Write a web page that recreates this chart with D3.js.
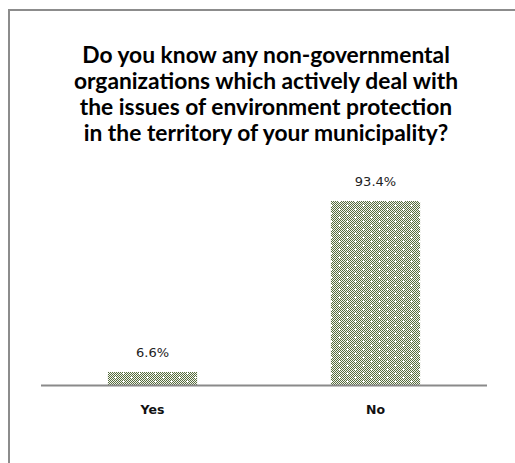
<!DOCTYPE html>
<html>
<head>
<meta charset="utf-8">
<script src="https://cdn.jsdelivr.net/npm/d3@7"></script>
<style>
  html, body { margin: 0; padding: 0; background: #fff; }
  svg { display: block; }
</style>
</head>
<body>
<svg id="chart" width="515" height="463"></svg>
<script>
// Survey answers and their shares
const categories = ["Yes", "No"];
const shares = [6.6, 93.4];
const titleLines = [
  "Do you know any non-governmental",
  "organizations which actively deal with",
  "the issues of environment protection",
  "in the territory of your municipality?"
];

const svg = d3.select("#chart");
const W = 515, H = 463;

// Dotted olive fill for the bars
const defs = svg.append("defs");
const pat = defs.append("pattern")
  .attr("id", "dots")
  .attr("patternUnits", "userSpaceOnUse")
  .attr("width", 16).attr("height", 8);
pat.append("rect").attr("width", 16).attr("height", 8).attr("fill", "#f4f6ef");
for (let y = 0; y < 8; y++) {
  for (let x = 0; x < 16; x++) {
    if ((x + y) % 2 === 0) {
      pat.append("rect").attr("x", x).attr("y", y).attr("width", 1).attr("height", 1).attr("fill", "#566b3e");
    }
  }
}
// small white sparkles on a staggered grid
[[3, 1], [11, 5]].forEach(([cx, cy]) => {
  pat.append("rect").attr("x", cx - 1).attr("y", cy).attr("width", 3).attr("height", 1).attr("fill", "#ffffff");
  pat.append("rect").attr("x", cx).attr("y", cy - 1).attr("width", 1).attr("height", 3).attr("fill", "#ffffff");
});

// Outer frame
svg.append("rect")
  .attr("x", 9).attr("y", 10)
  .attr("width", W + 10).attr("height", H + 10)
  .attr("fill", "none")
  .attr("stroke", "#8c8c8c")
  .attr("stroke-width", 2);

// Title
const title = svg.append("text")
  .attr("text-anchor", "middle")
  .attr("font-family", "Lato, 'Open Sans', sans-serif")
  .attr("font-weight", "bold")
  .attr("font-size", 22.8)
  .attr("fill", "#000");
titleLines.forEach((line, i) => {
  title.append("tspan")
    .attr("x", 266)
    .attr("y", 63 + i * 26)
    .text(line);
});

// Scales
const x = d3.scaleBand()
  .domain(categories)
  .range([41, 487])
  .paddingInner(0.6)
  .paddingOuter(0.3);

const y = d3.scaleLinear()
  .domain([0, 100])
  .range([385, 188]);

// Bars
svg.append("g").selectAll("rect")
  .data(categories)
  .join("rect")
  .attr("x", d => x(d))
  .attr("y", (d, i) => y(shares[i]))
  .attr("width", x.bandwidth())
  .attr("height", (d, i) => y(0) - y(shares[i]))
  .attr("fill", "url(#dots)");

// Value labels
svg.append("g").selectAll("text")
  .data(categories)
  .join("text")
  .attr("x", d => x(d) + x.bandwidth() / 2)
  .attr("y", (d, i) => y(shares[i]) - 15)
  .attr("text-anchor", "middle")
  .attr("font-family", "'DejaVu Sans', Verdana, sans-serif")
  .attr("font-size", 13)
  .attr("fill", "#222")
  .text((d, i) => shares[i].toFixed(1) + "%");

// Category axis
const axis = svg.append("g")
  .attr("transform", `translate(0,${y(0)})`)
  .call(d3.axisBottom(x).tickSize(0).tickPadding(20));
axis.select(".domain")
  .attr("d", `M${x.range()[0]},0.5H${x.range()[1]}`)
  .attr("stroke", "#8a8a8a")
  .attr("stroke-width", 2);
axis.selectAll(".tick text")
  .attr("font-family", "'DejaVu Sans', Verdana, sans-serif")
  .attr("font-size", 12.5)
  .attr("font-weight", "bold")
  .attr("fill", "#111");
</script>
</body>
</html>
